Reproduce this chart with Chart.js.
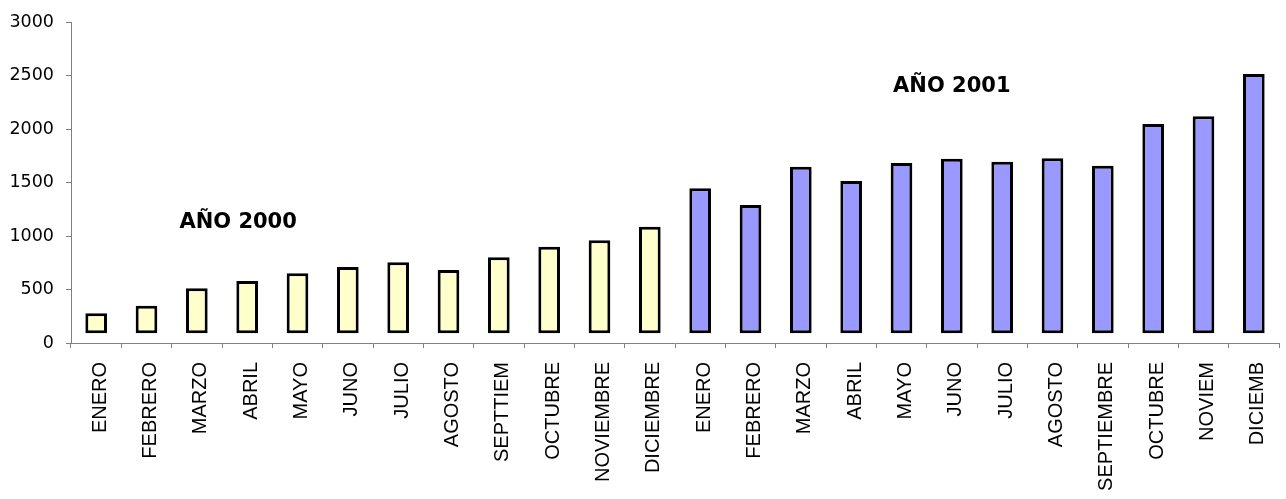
<!DOCTYPE html>
<html><head><meta charset="utf-8">
<script src="https://cdn.jsdelivr.net/npm/chart.js@4"></script>
<style>html,body{margin:0;padding:0;background:#fff;overflow:hidden}#wrap{width:1286px;height:499px;position:relative}</style>
</head><body><div id="wrap"><canvas id="c" width="1286" height="499"></canvas></div>
<script>
// ---- data ----
const months2000 = ['ENERO','FEBRERO','MARZO','ABRIL','MAYO','JUNO','JULIO','AGOSTO','SEPTTIEM','OCTUBRE','NOVIEMBRE','DICIEMBRE'];
const months2001 = ['ENERO','FEBRERO','MARZO','ABRIL','MAYO','JUNO','JULIO','AGOSTO','SEPTIEMBRE','OCTUBRE','NOVIEM','DICIEMB'];
const values2000 = [278, 349, 511, 579, 651, 710, 754, 682, 801, 900, 960, 1087];
const values2001 = [1446, 1290, 1648, 1514, 1682, 1722, 1694, 1726, 1657, 2047, 2119, 2514];
const barBase = 90;
const yMin = 0, yMax = 3000, yStep = 500;
const yearLabels = ['AÑO 2000', 'AÑO 2001'];
const yearLabelAnchorX = [2.82, 17.0];   // category index
const yearLabelAnchorY = [1130, 2395];   // value

// ---- styles ----
const color2000 = '#FFFFCC';
const color2001 = '#9999FF';
const axisColor = '#808080';

const labels = [...months2000, ...months2001];
const data = [...values2000, ...values2001].map(v => [barBase, v]);
const colors = [...months2000.map(() => color2000), ...months2001.map(() => color2001)];

const yearLabelPlugin = {
  id: 'yearLabels',
  afterDatasetsDraw(chart) {
    const {ctx, scales: {x, y}} = chart;
    ctx.save();
    ctx.font = 'bold 21px "DejaVu Sans"';
    ctx.fillStyle = '#000';
    ctx.textAlign = 'center';
    ctx.textBaseline = 'middle';
    yearLabels.forEach((t, i) => {
      ctx.fillText(t, x.getPixelForValue(yearLabelAnchorX[i]), y.getPixelForValue(yearLabelAnchorY[i]));
    });
    ctx.restore();
  }
};

new Chart(document.getElementById('c'), {
  type: 'bar',
  data: {
    labels,
    datasets: [{
      data,
      backgroundColor: colors,
      borderColor: '#000',
      borderWidth: 3,
      borderSkipped: false,
      categoryPercentage: 1,
      barPercentage: 0.43
    }]
  },
  options: {
    responsive: false,
    animation: false,
    devicePixelRatio: 1,
    layout: {autoPadding: false, padding: {top: 22, right: 7, left: 0, bottom: 0}},
    plugins: {legend: {display: false}, tooltip: {enabled: false}},
    scales: {
      x: {
        offset: true,
        grid: {display: true, drawOnChartArea: false, drawTicks: true, tickLength: 5, offset: true, color: axisColor},
        border: {display: true, color: axisColor},
        ticks: {autoSkip: false, maxRotation: 90, minRotation: 90, padding: 14, labelOffset: 4, color: '#000',
                font: {family: '"Liberation Sans", Arial, sans-serif', size: 20}},
        afterFit: s => { s.height = 156; s.paddingRight = 0; s.paddingLeft = 0; }
      },
      y: {
        min: yMin, max: yMax,
        grid: {display: true, drawOnChartArea: false, drawTicks: true, tickLength: 5, color: axisColor},
        border: {display: true, color: axisColor},
        ticks: {stepSize: yStep, padding: 12, color: '#000', callback: v => String(v),
                font: {family: '"DejaVu Sans", sans-serif', size: 17.5}},
        afterFit: s => { s.width = 71; s.paddingTop = 0; s.paddingBottom = 0; }
      }
    }
  },
  plugins: [yearLabelPlugin]
});
</script>
</body></html>
